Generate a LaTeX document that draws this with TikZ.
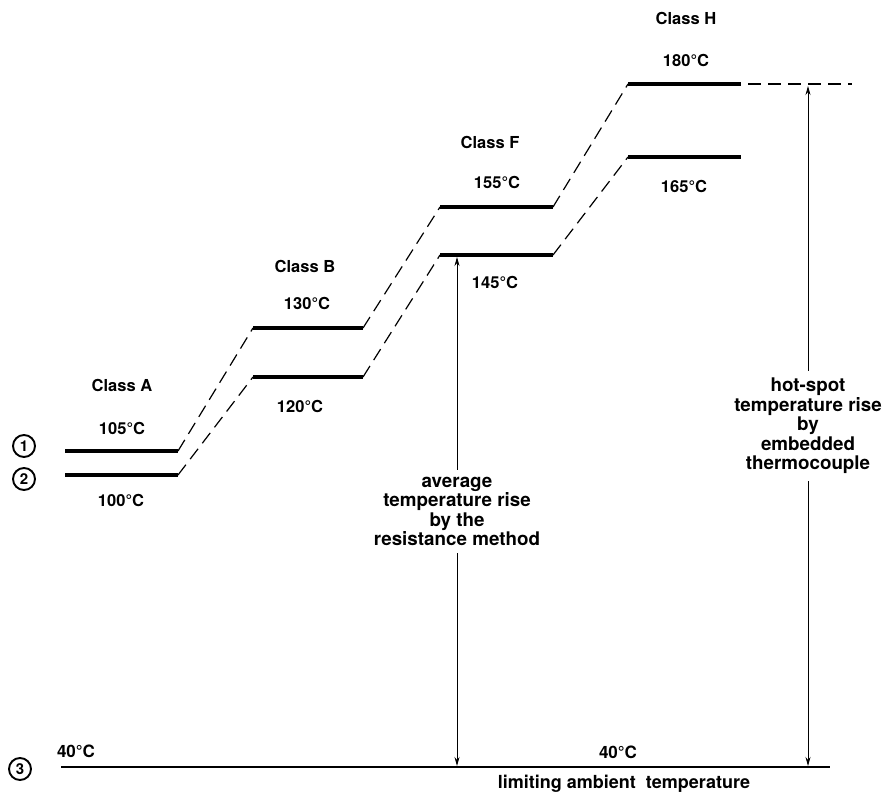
\documentclass[tikz,border=0pt]{standalone}
\usepackage{fontspec}
\setmainfont{TeX Gyre Heros}
\usepackage{tikz}
\usetikzlibrary{arrows.meta}

\begin{document}
\begin{tikzpicture}[x=1pt,y=-1pt,
  lvl/.style={line width=3.6pt},
  link/.style={line width=1.2pt,dash pattern=on 13pt off 7pt},
  base/.style={line width=2.2pt},
  rise/.style={{Stealth[length=9pt,width=5pt]}-{Stealth[length=9pt,width=5pt]},line width=0.8pt},
  lab/.style={font=\bfseries\fontsize{16.5}{20}\selectfont,inner sep=1pt},
  note/.style={font=\bfseries\fontsize{18.8}{19.5}\selectfont,align=center,fill=white,inner sep=7pt},
  num/.style={circle,draw,line width=1.9pt,minimum size=22pt,inner sep=0pt,font=\bfseries\fontsize{15}{15}\selectfont}]
  \useasboundingbox (0,0) rectangle (883,792);
  \foreach \n/\xa/\xb/\yu/\yl in {A/65/178/451/475,B/253/363/328/377,F/440/553/207/255,H/628/741/84/157}{
    \coordinate (\n u1) at (\xa,\yu);
    \coordinate (\n u2) at (\xb,\yu);
    \coordinate (\n l1) at (\xa,\yl);
    \coordinate (\n l2) at (\xb,\yl);
    \draw[lvl] (\n u1) -- (\n u2);
    \draw[lvl] (\n l1) -- (\n l2);
  }
  \foreach \p/\q in {A/B,B/F,F/H}{
    \draw[link] (\p u2) -- (\q u1);
    \draw[link] (\p l2) -- (\q l1);
  }
  \coordinate (Hend) at (852,84);
  \draw[link] ([xshift=7pt]Hu2) -- (Hend);
  \node[lab] (clA) at (122,385) {Class A};
  \node[lab] (tA1) at (122,428) {105°C};
  \node[lab] (tA2) at (121,500) {100°C};
  \node[lab] (clB) at (305,266) {Class B};
  \node[lab] (tB1) at (307,303) {130°C};
  \node[lab] (tB2) at (300,406) {120°C};
  \node[lab] (clF) at (490,142) {Class F};
  \node[lab] (tF1) at (497,182) {155°C};
  \node[lab] (tF2) at (495,282) {145°C};
  \node[lab] (clH) at (686,18) {Class H};
  \node[lab] (tH1) at (686,60) {180°C};
  \node[lab] (tH2) at (684,186) {165°C};
  \node[num] (n1) at (24,446) {1};
  \node[num] (n2) at (24,479) {2};
  \node[num] (n3) at (20,769) {3};
  \coordinate (b0) at (61,767);
  \coordinate (b1) at (830,767);
  \draw[base] (b0) -- (b1);
  \node[lab,font=\bfseries\fontsize{17}{17}\selectfont] (amb1) at (76,751) {40°C};
  \node[lab,font=\bfseries\fontsize{17}{17}\selectfont] (amb2) at (618,752) {40°C};
  \node[lab,font=\bfseries\fontsize{18}{18}\selectfont] (lim) at (624,784) {limiting ambient\ \ temperature};
  \coordinate (avgtop) at (457,257);
  \coordinate (avgbot) at (457,766);
  \coordinate (hottop) at (808,86);
  \coordinate (hotbot) at (808,766);
  \draw[rise] (avgtop) -- node[note] (avg) {average\\temperature rise\\by the\\resistance method} (avgbot);
  \draw[rise] (hottop) -- node[note] (hot) {hot-spot\\temperature rise\\by\\embedded\\thermocouple} (hotbot);
\end{tikzpicture}
\end{document}
